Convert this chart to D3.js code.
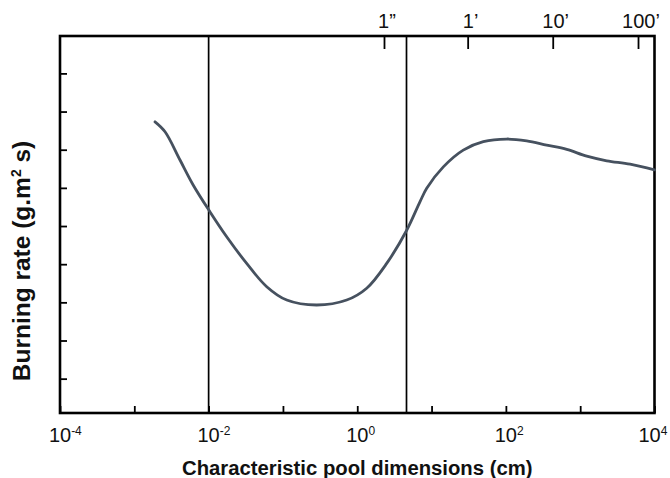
<!DOCTYPE html>
<html>
<head>
<meta charset="utf-8">
<script src="https://cdn.jsdelivr.net/npm/d3@7"></script>
<style>
  html, body { margin: 0; padding: 0; background: #fff; }
  svg { display: block; font-family: "Liberation Sans", Arial, Helvetica, sans-serif; }
</style>
</head>
<body>
<svg id="chart" width="670" height="478"></svg>
<script>
// ---- data ----
const poolSizeCm = [0.0019, 0.00259, 0.00412, 0.00622, 0.01045, 0.0175, 0.0325, 0.0605, 0.1125, 0.284, 0.721, 1.34, 2.49, 4.63, 7.0, 8.61, 14.4, 26.7, 49.7, 102.6, 190.5, 354, 659, 1225, 2275, 4690, 10000];
const burningRate = [7.73, 7.47, 6.73, 6.07, 5.37, 4.72, 4.02, 3.41, 3.06, 2.93, 3.06, 3.37, 4.02, 4.89, 5.64, 5.99, 6.55, 6.99, 7.21, 7.28, 7.23, 7.12, 7.01, 6.83, 6.71, 6.62, 6.47];
const bottomTickExponents = [-4, -3, -2, -1, 0, 1, 2, 3, 4];
const bottomLabelExponents = [-4, -2, 0, 2, 4];
const topTickLabels = ["1\u201D", "1\u2019", "10\u2019", "100\u2019"];
const topTickValuesCm = [2.29, 30.6, 427, 6000];
const yTickValues = [1, 2, 3, 4, 5, 6, 7, 8, 9];
const regimeBoundariesCm = [0.01, 4.6];
const xTitle = "Characteristic pool dimensions (cm)";

// ---- layout ----
const svg = d3.select("#chart");
const L = 60, R = 654.5, T = 36, B = 413;
const x = d3.scaleLog().domain([1e-4, 1e4]).range([L, R]);
const y = d3.scaleLinear().domain([0.1, 9.98]).range([B, T]);

// vertical regime lines
svg.append("g").selectAll("line").data(regimeBoundariesCm).join("line")
  .attr("x1", d => x(d)).attr("x2", d => x(d))
  .attr("y1", T).attr("y2", B)
  .attr("stroke", "#000").attr("stroke-width", 1.7);

// axes (ticks inward)
const bottomAxis = d3.axisBottom(x).tickValues(bottomTickExponents.map(e => Math.pow(10, e)))
  .tickSize(-7).tickFormat("");
const gB = svg.append("g").attr("transform", `translate(0,${B})`).call(bottomAxis);
const topAxis = d3.axisTop(x).tickValues(topTickValuesCm).tickSize(-13).tickFormat("");
const gT = svg.append("g").attr("transform", `translate(0,${T})`).call(topAxis);
const leftAxis = d3.axisLeft(y).tickValues(yTickValues).tickSize(-7).tickFormat("");
const gL = svg.append("g").attr("transform", `translate(${L},0)`).call(leftAxis);
[gB, gT, gL].forEach(g => {
  g.select(".domain").remove();
  g.selectAll(".tick line").attr("stroke", "#000").attr("stroke-width", 1.8);
});

// frame
svg.append("rect").attr("x", L).attr("y", T).attr("width", R - L).attr("height", B - T)
  .attr("fill", "none").attr("stroke", "#000").attr("stroke-width", 2.6);

// curve
const line = d3.line().x(d => x(d[0])).y(d => y(d[1])).curve(d3.curveCatmullRom.alpha(0.5));
svg.append("path").datum(poolSizeCm.map((v, i) => [v, burningRate[i]]))
  .attr("d", line).attr("fill", "none").attr("stroke", "#46515f")
  .attr("stroke-width", 2.8).attr("stroke-linecap", "round");

// bottom labels 10^n
const measure = svg.append("text").attr("font-size", 20).text("10");
const w10 = measure.node().getComputedTextLength();
measure.remove();
bottomLabelExponents.forEach((e, i) => {
  const nudge = (i === bottomLabelExponents.length - 1) ? -5 : 0;
  const t = svg.append("text").attr("x", x(Math.pow(10, e)) - w10 / 2 + nudge).attr("y", 442)
    .attr("font-size", 20).attr("fill", "#111");
  t.append("tspan").text("10");
  t.append("tspan").attr("font-size", 12).attr("dy", -7).text(String(e));
});

// top labels
svg.append("g").selectAll("text").data(topTickValuesCm).join("text")
  .attr("x", (d, i) => x(d) + 3).attr("y", 28).attr("text-anchor", "middle")
  .attr("font-size", 20).attr("fill", "#111").text((d, i) => topTickLabels[i]);

// x title
svg.append("text").attr("x", (L + R) / 2).attr("y", 475).attr("text-anchor", "middle")
  .attr("font-size", 20.3).attr("font-weight", "bold").attr("fill", "#111").text(xTitle);

// y title
const yt = svg.append("text").attr("transform", "translate(30,261) rotate(-90)")
  .attr("text-anchor", "middle").attr("font-size", 24.5).attr("font-weight", "bold").attr("fill", "#111");
yt.append("tspan").text("Burning rate (g.m");
yt.append("tspan").attr("font-size", 14).attr("dy", -9).text("2");
yt.append("tspan").attr("dy", 9).text(" s)");
</script>
</body>
</html>
